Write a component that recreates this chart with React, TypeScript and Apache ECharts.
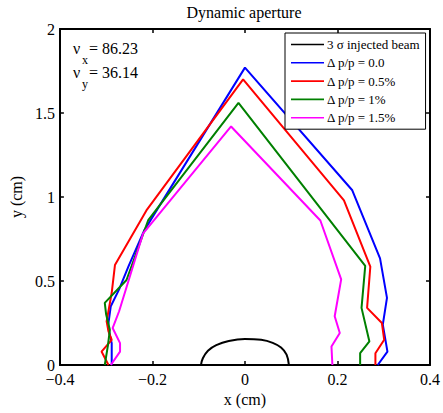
import React, { useEffect, useRef } from 'react';
import * as echarts from 'echarts';

const FONT = "'Liberation Serif', 'Times New Roman', serif";

const xTicks = [-0.4, -0.2, 0, 0.2, 0.4];
const yTicks = [0, 0.5, 1, 1.5, 2];
const seriesNames = ['3 σ injected beam', 'Δ p/p = 0.0', 'Δ p/p = 0.5%', 'Δ p/p = 1%', 'Δ p/p = 1.5%'];
const seriesColors = ['#000000', '#0000ff', '#ff0000', '#008000', '#ff00ff'];

const beam: number[][] = [
  [-0.095, 0], [-0.091, 0.04], [-0.08, 0.085], [-0.062, 0.118], [-0.035, 0.143],
  [0, 0.155], [0.035, 0.15], [0.06, 0.132], [0.078, 0.104], [0.09, 0.062], [0.095, 0],
];
const dp00: number[][] = [
  [-0.288, 0], [-0.288, 0.13], [-0.296, 0.23], [-0.29, 0.35], [-0.272, 0.45], [-0.252, 0.585],
  [-0.218, 0.8], [0.0, 1.77], [0.232, 1.04], [0.292, 0.635], [0.307, 0.4], [0.298, 0.24],
  [0.308, 0.08], [0.287, 0],
];
const dp05: number[][] = [
  [-0.295, 0], [-0.31, 0.08], [-0.288, 0.15], [-0.295, 0.2], [-0.299, 0.26], [-0.288, 0.43],
  [-0.281, 0.595], [-0.213, 0.92], [-0.004, 1.7], [0.214, 0.98], [0.271, 0.585], [0.264, 0.34],
  [0.296, 0.25], [0.301, 0.15], [0.282, 0.07], [0.282, 0],
];
const dp10: number[][] = [
  [-0.303, 0], [-0.296, 0.12], [-0.292, 0.21], [-0.3, 0.3], [-0.303, 0.37], [-0.256, 0.506],
  [-0.209, 0.863], [-0.014, 1.56], [0.26, 0.59], [0.252, 0.34], [0.269, 0.14], [0.249, 0.07],
  [0.249, 0],
];
const dp15: number[][] = [
  [-0.29, 0], [-0.27, 0.08], [-0.27, 0.13], [-0.286, 0.22], [-0.272, 0.32], [-0.22, 0.784],
  [-0.03, 1.42], [0.163, 0.86], [0.208, 0.51], [0.194, 0.29], [0.205, 0.19], [0.187, 0.11],
  [0.189, 0],
];
const seriesData = [beam, dp00, dp05, dp10, dp15];

const fmt = (v: number) => (v < 0 ? '\u2212' + String(Math.abs(v)) : String(v));

export default function App() {
  const ref = useRef<HTMLDivElement>(null);
  useEffect(() => {
    if (!ref.current) return;
    const chart = echarts.init(ref.current, null, { renderer: 'svg' });
    const axisLine = { show: true, onZero: false, lineStyle: { color: '#000', width: 2 } };
    const axisTick = { show: true, inside: true, length: 4, lineStyle: { color: '#000', width: 1.5 } };
    const labelStyle = { color: '#000', fontSize: 16, fontFamily: FONT };
    const nameStyle = { color: '#000', fontSize: 16, fontFamily: FONT };
    chart.setOption({
      animation: false,
      grid: { left: 58, right: 13, top: 29, bottom: 48, containLabel: false },
      xAxis: [
        {
          type: 'value', min: xTicks[0], max: xTicks[xTicks.length - 1], interval: 0.2, position: 'bottom',
          axisLine, axisTick, splitLine: { show: false },
          axisLabel: { ...labelStyle, lineHeight: 14, margin: 7, formatter: fmt },
          name: 'x (cm)', nameLocation: 'middle', nameGap: 23, nameTextStyle: nameStyle,
        },
        {
          type: 'value', min: xTicks[0], max: xTicks[xTicks.length - 1], interval: 0.2, position: 'top',
          axisLine, axisTick, splitLine: { show: false }, axisLabel: { show: false },
        },
      ],
      yAxis: [
        {
          type: 'value', min: yTicks[0], max: yTicks[yTicks.length - 1], interval: 0.5, position: 'left',
          axisLine, axisTick, splitLine: { show: false },
          axisLabel: { ...labelStyle, lineHeight: 12, margin: 5, padding: [0, 0, 2, 0], formatter: fmt },
          name: 'y (cm)', nameLocation: 'middle', nameGap: 33, nameTextStyle: nameStyle,
        },
        {
          type: 'value', min: yTicks[0], max: yTicks[yTicks.length - 1], interval: 0.5, position: 'right',
          axisLine, axisTick, splitLine: { show: false }, axisLabel: { show: false },
        },
      ],
      legend: {
        orient: 'vertical', left: 285, top: 33,
        backgroundColor: '#fff', borderColor: '#000', borderWidth: 1, borderRadius: 0,
        padding: [5, 6, 5, 6], itemGap: 5.3, itemWidth: 33, itemHeight: 10,
        icon: 'path://M0,4.2 L33,4.2 L33,5.8 L0,5.8 Z',
        textStyle: { color: '#000', fontSize: 13, lineHeight: 13, fontFamily: FONT, padding: [0, 0, 0, -2] },
        data: seriesNames,
      },
      graphic: [
        { type: 'text', x: 244, y: 12, style: { text: 'Dynamic aperture', font: `16px ${FONT}`, fill: '#000', textAlign: 'center', textVerticalAlign: 'middle' } },
        { type: 'text', x: 73, y: 48, style: { text: 'ν', font: `16px ${FONT}`, fill: '#000', textAlign: 'left', textVerticalAlign: 'middle' } },
        { type: 'text', x: 82, y: 60, style: { text: 'x', font: `12px ${FONT}`, fill: '#000', textAlign: 'left', textVerticalAlign: 'middle' } },
        { type: 'text', x: 89, y: 48, style: { text: '= 86.23', font: `16px ${FONT}`, fill: '#000', textAlign: 'left', textVerticalAlign: 'middle' } },
        { type: 'text', x: 73, y: 72, style: { text: 'ν', font: `16px ${FONT}`, fill: '#000', textAlign: 'left', textVerticalAlign: 'middle' } },
        { type: 'text', x: 82, y: 84, style: { text: 'y', font: `12px ${FONT}`, fill: '#000', textAlign: 'left', textVerticalAlign: 'middle' } },
        { type: 'text', x: 89, y: 72, style: { text: '= 36.14', font: `16px ${FONT}`, fill: '#000', textAlign: 'left', textVerticalAlign: 'middle' } },
      ],
      series: seriesNames.map((name, i) => ({
        name,
        type: 'line',
        data: seriesData[i],
        symbol: 'none',
        smooth: i === 0 ? 0.4 : false,
        color: seriesColors[i],
        lineStyle: { color: seriesColors[i], width: 2 },
        clip: true,
        z: i === 0 ? 3 : 2,
      })),
    });
    return () => chart.dispose();
  }, []);
  return <div ref={ref} style={{ width: 443, height: 413, position: 'absolute', left: 0, top: 0 }} />;
}
